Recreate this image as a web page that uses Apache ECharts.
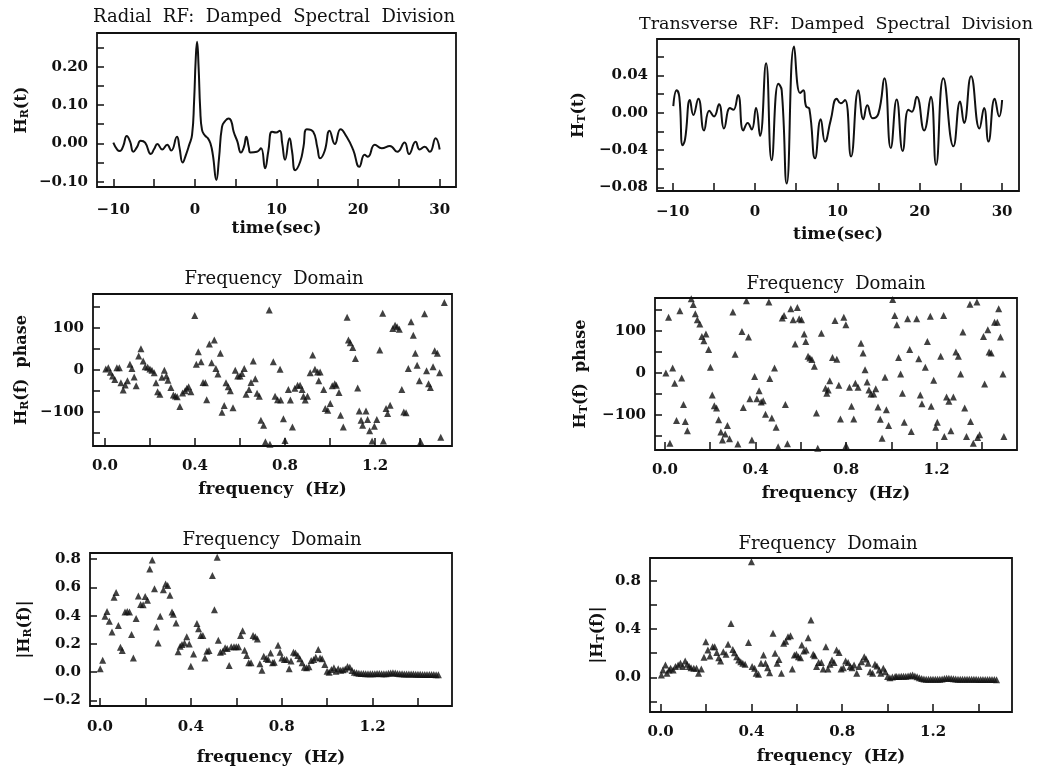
<!DOCTYPE html>
<html><head><meta charset="utf-8">
<script src="https://cdn.jsdelivr.net/npm/echarts@6/dist/echarts.min.js"></script>
<style>html,body{margin:0;padding:0;background:#fff}#c{width:1040px;height:767px}</style>
</head><body><div id="c"></div>
<script>
// ---------- Panel titles ----------
const titles = ['Radial  RF:  Damped  Spectral  Division','Transverse  RF:  Damped  Spectral  Division','Frequency  Domain','Frequency  Domain','Frequency  Domain','Frequency  Domain'];

// ---------- Radial RF time series ----------
const tRad = [-10,-9.5,-9.2,-8.8,-8.35,-7.95,-7.55,-7.1,-6.65,-6.1,-5.4,-5.0,-4.6,-4.0,-3.4,-2.9,-2.2,-1.9,-1.5,-1.1,-0.7,-0.35,-0.1,0.1,0.26,0.45,0.65,0.87,1.25,1.6,1.9,2.2,2.63,2.95,3.32,3.7,4.13,4.45,4.75,5.2,5.64,6.0,6.3,6.6,6.8,7.6,8.1,8.6,9.0,9.45,9.95,10.4,10.7,11.05,11.6,11.9,12.3,12.9,13.3,13.7,14.5,15.0,15.35,15.9,16.5,17.15,17.85,18.6,19.4,20.15,20.8,21.2,22.05,22.9,23.9,24.8,25.7,26.25,27.05,27.55,28.15,28.8,29.5,30];
const hRad = [0.002,-0.017,-0.02,-0.008,0.019,0.005,-0.022,-0.01,0.007,0.002,-0.028,-0.015,-0.002,-0.016,-0.004,-0.019,0.017,-0.01,-0.05,-0.03,-0.004,0.022,0.11,0.22,0.265,0.2,0.09,0.035,0.02,0.013,0.0,-0.03,-0.096,-0.04,0.043,0.058,0.065,0.058,0.03,0.005,-0.024,-0.01,0.017,-0.01,-0.024,-0.022,-0.013,-0.065,-0.02,0.03,0.028,0.033,0.0,-0.043,0.013,-0.02,-0.07,-0.048,-0.01,0.037,0.03,-0.01,-0.039,-0.02,0.033,-0.002,0.037,0.017,-0.017,-0.061,-0.03,-0.035,-0.004,-0.013,-0.007,-0.022,0.002,-0.028,0.004,-0.016,-0.009,-0.022,0.013,-0.016];

// ---------- Transverse RF time series ----------
const tTra = [-9.92,-9.51,-9.19,-8.79,-8.5,-7.9,-7.49,-6.88,-6.19,-5.55,-4.98,-4.37,-3.77,-3.04,-2.63,-2.06,-1.42,-0.89,-0.4,0.12,0.61,1.34,2.02,2.83,3.24,3.85,4.74,5.47,5.87,6.19,6.6,7.29,7.98,8.5,9.19,9.92,10.4,10.93,11.66,12.55,13.16,13.64,14.29,14.98,15.71,16.48,17.2,17.93,18.62,19.03,19.64,20.53,21.34,21.98,22.87,24.09,24.9,25.38,26.23,27.25,27.81,28.34,29.1,29.64,30];
const hTra = [0.007,0.024,0.017,-0.035,-0.029,0.0136,-0.0025,0.015,-0.019,0.002,-0.004,0.009,-0.017,0.005,0.003,0.019,-0.019,-0.011,-0.018,0.005,-0.025,0.053,-0.051,0.031,0.024,-0.076,0.071,0.021,0.024,0.007,0.004,-0.049,-0.007,-0.031,-0.008,0.015,0.01,0.0136,-0.047,0.024,-0.007,0.008,-0.006,-0.001,0.037,-0.038,0.014,-0.041,0.003,0.001,0.017,-0.019,0.017,-0.056,0.037,-0.036,0.012,-0.011,0.039,-0.017,0.005,-0.031,0.015,-0.004,0.0136];

// ---------- Radial phase spectrum ----------
const fRadPh = [0.004,0.015,0.024,0.034,0.044,0.053,0.064,0.071,0.081,0.09,0.1,0.111,0.12,0.13,0.139,0.15,0.16,0.17,0.179,0.19,0.2,0.209,0.219,0.227,0.234,0.244,0.253,0.264,0.273,0.28,0.293,0.304,0.313,0.321,0.333,0.345,0.356,0.364,0.372,0.382,0.399,0.406,0.415,0.427,0.436,0.446,0.452,0.464,0.474,0.486,0.493,0.502,0.513,0.52,0.53,0.538,0.548,0.557,0.569,0.579,0.59,0.6,0.609,0.619,0.627,0.64,0.649,0.659,0.668,0.676,0.686,0.693,0.705,0.713,0.73,0.733,0.748,0.756,0.767,0.778,0.781,0.793,0.8,0.815,0.824,0.833,0.844,0.856,0.867,0.876,0.882,0.89,0.9,0.912,0.923,0.933,0.945,0.95,0.956,0.972,0.979,0.99,1.001,1.01,1.021,1.028,1.04,1.047,1.059,1.076,1.082,1.09,1.101,1.113,1.123,1.13,1.138,1.145,1.16,1.167,1.176,1.187,1.197,1.208,1.221,1.234,1.237,1.249,1.256,1.267,1.279,1.289,1.298,1.308,1.319,1.328,1.338,1.348,1.36,1.37,1.379,1.387,1.397,1.403,1.42,1.429,1.438,1.446,1.458,1.465,1.477,1.487,1.492,1.508];
const phRad = [2,5,-6,-15,-23,5,5,-31,-48,-36,-26,13,3,-17,-38,33,50,21,7,6,2,-1,-7,-31,-52,-58,-18,-1,-15,-25,-42,-60,-62,-64,-87,-55,-50,-44,-40,-52,129,13,43,19,-30,-31,-71,61,17,71,3,-10,39,-101,-85,-31,-40,-50,-90,-1,-15,-15,-9,3,-58,-47,-30,21,-21,-56,-63,-120,-132,-171,142,-177,19,-63,-71,1,-72,-116,-168,-47,-72,-136,-44,-37,-37,-47,-63,-72,-63,-7,35,1,-5,-26,-5,-47,-92,-96,-80,-38,-33,-37,-54,-108,-136,125,71,64,53,27,-43,-98,-120,-132,-98,-118,-145,-169,-134,-118,47,134,-169,-92,-104,-84,98,106,102,96,-47,-100,-102,3,114,82,39,11,-26,-171,133,-2,-33,-42,7,45,39,-7,-160,160];

// ---------- Transverse phase spectrum ----------
const fTraPh = [0.004,0.016,0.022,0.034,0.043,0.051,0.066,0.074,0.082,0.09,0.099,0.116,0.125,0.134,0.143,0.154,0.163,0.172,0.181,0.193,0.201,0.209,0.218,0.228,0.237,0.247,0.254,0.266,0.276,0.285,0.3,0.31,0.322,0.34,0.346,0.36,0.369,0.375,0.384,0.396,0.406,0.416,0.425,0.434,0.444,0.459,0.463,0.472,0.484,0.491,0.5,0.518,0.526,0.532,0.541,0.556,0.566,0.575,0.585,0.593,0.603,0.615,0.622,0.632,0.64,0.649,0.66,0.669,0.675,0.691,0.709,0.715,0.721,0.728,0.74,0.751,0.759,0.768,0.775,0.79,0.799,0.8,0.815,0.824,0.834,0.841,0.853,0.866,0.875,0.884,0.893,0.901,0.91,0.922,0.931,0.941,0.951,0.959,0.972,0.978,0.988,1.006,1.015,1.024,1.032,1.041,1.049,1.057,1.072,1.081,1.088,1.112,1.121,1.128,1.135,1.15,1.159,1.172,1.176,1.187,1.196,1.203,1.218,1.231,1.234,1.244,1.254,1.263,1.274,1.285,1.296,1.306,1.316,1.324,1.332,1.347,1.35,1.362,1.378,1.381,1.39,1.407,1.412,1.426,1.432,1.441,1.456,1.468,1.474,1.482,1.493,1.497];
const phTra = [0,133,-167,12,-24,-113,148,-12,-75,-115,-137,177,163,141,127,117,87,77,93,56,14,-52,-78,-83,-111,-140,-159,-145,-125,-156,145,45,-169,99,-82,172,86,-61,-159,-8,-61,-42,-69,-66,-98,169,-13,-107,12,-129,-175,131,137,-75,-168,153,127,69,156,129,127,93,75,40,36,32,16,-95,-179,95,-36,-48,-40,-18,37,125,33,-29,-109,133,115,-172,-34,-79,-109,-24,-34,71,48,8,-21,-40,-50,-50,-37,-81,-110,-155,-10,-87,-125,175,137,115,37,-2,-48,-117,129,56,-139,129,34,-52,-73,14,75,135,-79,-17,-129,-117,40,137,-151,-57,-67,-137,-57,50,40,-2,98,-83,-151,164,-115,-167,169,-153,-147,87,-26,103,50,48,121,121,153,86,-2,-151];

// ---------- Radial amplitude spectrum ----------
const fRadAmp = [0.001,0.012,0.022,0.031,0.041,0.053,0.062,0.071,0.081,0.09,0.098,0.11,0.12,0.13,0.139,0.147,0.159,0.169,0.179,0.19,0.199,0.209,0.219,0.23,0.24,0.249,0.256,0.265,0.279,0.289,0.298,0.308,0.317,0.323,0.335,0.344,0.353,0.361,0.372,0.382,0.393,0.4,0.412,0.427,0.434,0.444,0.453,0.462,0.471,0.48,0.495,0.504,0.516,0.521,0.53,0.541,0.551,0.56,0.569,0.578,0.59,0.6,0.61,0.619,0.628,0.637,0.646,0.655,0.665,0.674,0.684,0.693,0.704,0.713,0.721,0.732,0.741,0.751,0.76,0.767,0.784,0.793,0.801,0.812,0.822,0.833,0.841,0.852,0.861,0.871,0.88,0.89,0.9,0.91,0.92,0.93,0.941,0.95,0.961,0.969,0.978,0.99,1.0,1.009,1.019,1.03,1.039,1.049,1.06,1.07,1.08,1.09,1.1,1.11,1.12,1.13,1.14,1.15,1.16,1.17,1.18,1.19,1.2,1.21,1.22,1.23,1.24,1.25,1.26,1.27,1.28,1.29,1.3,1.31,1.32,1.33,1.34,1.35,1.36,1.37,1.38,1.39,1.4,1.41,1.42,1.43,1.44,1.45,1.46,1.47,1.48,1.49,1.5];
const ampRad = [0.024,0.085,0.395,0.43,0.36,0.285,0.53,0.565,0.33,0.176,0.153,0.426,0.43,0.426,0.266,0.1,0.38,0.54,0.48,0.478,0.536,0.51,0.73,0.795,0.59,0.32,0.207,0.395,0.584,0.624,0.614,0.544,0.426,0.41,0.348,0.144,0.184,0.195,0.207,0.25,0.2,0.042,0.129,0.344,0.308,0.259,0.259,0.1,0.148,0.153,0.685,0.442,0.814,0.226,0.141,0.148,0.172,0.167,0.047,0.179,0.179,0.179,0.179,0.259,0.294,0.155,0.118,0.066,0.066,0.259,0.25,0.235,0.059,0.014,0.113,0.096,0.089,0.136,0.066,0.07,0.19,0.141,0.1,0.089,0.089,0.024,0.078,0.141,0.136,0.118,0.094,0.066,0.035,0.031,0.038,0.082,0.089,0.106,0.16,0.1,0.094,0.054,0.007,0.0,0.019,0.031,0.007,0.024,0.014,0.017,0.022,0.04,0.035,0.012,0.0,-0.005,-0.008,-0.01,-0.01,-0.011,-0.011,-0.012,-0.011,-0.011,-0.01,-0.01,-0.011,-0.011,-0.012,-0.008,-0.006,-0.005,-0.006,-0.009,-0.011,-0.012,-0.013,-0.013,-0.014,-0.014,-0.014,-0.015,-0.015,-0.015,-0.016,-0.016,-0.016,-0.017,-0.017,-0.017,-0.018,-0.018];

// ---------- Transverse amplitude spectrum ----------
const fTraAmp = [0.003,0.01,0.021,0.028,0.037,0.044,0.055,0.065,0.077,0.087,0.097,0.108,0.117,0.126,0.134,0.146,0.158,0.167,0.179,0.191,0.199,0.208,0.217,0.229,0.238,0.247,0.256,0.264,0.276,0.288,0.297,0.31,0.318,0.325,0.335,0.344,0.353,0.362,0.372,0.387,0.4,0.403,0.414,0.421,0.431,0.442,0.453,0.462,0.471,0.48,0.495,0.504,0.513,0.521,0.532,0.542,0.551,0.561,0.572,0.58,0.589,0.598,0.607,0.616,0.622,0.631,0.641,0.65,0.662,0.672,0.678,0.687,0.696,0.708,0.716,0.728,0.737,0.746,0.755,0.764,0.775,0.786,0.795,0.805,0.815,0.826,0.835,0.843,0.852,0.864,0.874,0.885,0.897,0.905,0.914,0.923,0.934,0.944,0.953,0.963,0.97,0.981,0.99,1.0,1.01,1.021,1.033,1.04,1.05,1.06,1.07,1.08,1.09,1.1,1.11,1.12,1.13,1.14,1.15,1.16,1.17,1.18,1.19,1.2,1.21,1.22,1.23,1.24,1.25,1.26,1.27,1.28,1.29,1.3,1.31,1.32,1.33,1.34,1.35,1.36,1.37,1.38,1.39,1.4,1.41,1.42,1.43,1.44,1.45,1.46,1.47,1.48,1.49,1.5];
const ampTra = [0.019,0.061,0.102,0.033,0.061,0.075,0.061,0.089,0.102,0.116,0.089,0.136,0.108,0.089,0.08,0.075,0.075,0.033,0.069,0.166,0.296,0.227,0.177,0.254,0.254,0.207,0.163,0.136,0.213,0.191,0.274,0.448,0.232,0.205,0.171,0.144,0.13,0.116,0.108,0.29,0.96,0.089,0.075,0.033,0.025,0.116,0.185,0.116,0.08,0.039,0.365,0.199,0.116,0.149,0.033,0.282,0.3,0.337,0.346,0.069,0.185,0.191,0.171,0.163,0.268,0.218,0.227,0.329,0.476,0.191,0.18,0.089,0.124,0.124,0.069,0.254,0.069,0.108,0.144,0.124,0.227,0.207,0.069,0.08,0.136,0.124,0.089,0.08,0.102,0.033,0.089,0.13,0.171,0.152,0.116,0.047,0.033,0.108,0.094,0.061,0.033,0.075,0.047,0.006,-0.003,0.003,0.006,0.006,0.007,0.008,0.008,0.009,0.011,0.016,0.02,0.012,0.004,-0.004,-0.01,-0.014,-0.016,-0.017,-0.017,-0.017,-0.016,-0.016,-0.015,-0.013,-0.01,-0.008,-0.007,-0.01,-0.012,-0.014,-0.015,-0.015,-0.016,-0.016,-0.016,-0.017,-0.017,-0.017,-0.017,-0.018,-0.018,-0.018,-0.018,-0.019,-0.019,-0.019,-0.019,-0.02];

// ---------- Tick positions and labels ----------
const timeTicks = [-10,-5,0,5,10,15,20,25,30];
const timeLabels = [-10,0,10,20,30];
const radTimeTicks = [-0.10,-0.05,0,0.05,0.10,0.15,0.20,0.25];
const radTimeLabels = [-0.10,0,0.10,0.20];
const traTimeTicks = [-0.08,-0.06,-0.04,-0.02,0,0.02,0.04,0.06,0.08];
const traTimeLabels = [-0.08,-0.04,0,0.04,0.08];
const freqTicks = [0,0.2,0.4,0.6,0.8,1.0,1.2,1.4];
const freqLabels = [0,0.4,0.8,1.2];
const phaseTicks = [-150,-100,-50,0,50,100,150];
const phaseLabels = [-100,0,100];
const radAmpTicks = [-0.2,0,0.2,0.4,0.6,0.8];
const radAmpLabels = [-0.2,0,0.2,0.4,0.6,0.8];
const traAmpTicks = [-0.2,0,0.2,0.4,0.6,0.8];
const traAmpLabels = [0,0.4,0.8];

// ---------- styling / layout ----------
const FONT = 'DejaVu Serif';
const INK = '#111';
const zip = (a, b) => a.map((v, i) => [v, b[i]]);
const fmt = d => v => { const s = Math.abs(v) < 1e-9 ? (0).toFixed(d) : Math.abs(v).toFixed(d); return (v < -1e-9 ? '\u2212' : '') + s; };

const grids = [
  {left: 97, top: 33, width: 359, height: 154},
  {left: 657, top: 39, width: 362, height: 152},
  {left: 93, top: 294, width: 359, height: 152},
  {left: 655, top: 298, width: 362, height: 152},
  {left: 90, top: 553, width: 362, height: 156},
  {left: 650, top: 558, width: 362, height: 154}
];
const titlePos = [[274, 8], [836, 15], [274, 270], [836, 275], [272, 531], [828, 535]];
const titleSize = [18, 17.5, 18, 18, 18, 18];

const rich = {
  m: {fontFamily: FONT, fontSize: 16, fontWeight: 'bold', color: INK},
  s: {fontFamily: FONT, fontSize: 11, fontWeight: 'bold', color: INK, padding: [7, 0, 0, 0]}
};

function xAx(i, min, max, ticks, labels, dec, name, gap, margin) {
  return {
    type: 'value', gridIndex: i, min, max, name, nameLocation: 'middle', nameGap: gap,
    nameTextStyle: {fontFamily: FONT, fontSize: 17, fontWeight: 'bold', color: INK},
    axisLine: {show: false, onZero: false}, splitLine: {show: false},
    axisTick: {show: true, inside: true, length: 8, customValues: ticks, lineStyle: {color: INK, width: 1.5}},
    axisLabel: {customValues: labels, formatter: fmt(dec), fontFamily: FONT, fontSize: 15, fontWeight: 'bold', color: INK, margin: margin}
  };
}
function yAx(i, min, max, ticks, labels, dec, name, gap) {
  return {
    type: 'value', gridIndex: i, min, max, name, nameLocation: 'middle', nameGap: gap, nameRotate: 90,
    nameTextStyle: {rich},
    axisLine: {show: false, onZero: false}, splitLine: {show: false},
    axisTick: {show: true, inside: true, length: 7, customValues: ticks, lineStyle: {color: INK, width: 1.5}},
    axisLabel: {customValues: labels, formatter: fmt(dec), fontFamily: FONT, fontSize: 15, fontWeight: 'bold', color: INK, margin: 9}
  };
}

const lineS = (i, x, y) => ({type: 'line', xAxisIndex: i, yAxisIndex: i, data: zip(x, y), showSymbol: false, smooth: 0.5, lineStyle: {color: INK, width: 2}, silent: true});
const dotS = (i, x, y) => ({type: 'scatter', xAxisIndex: i, yAxisIndex: i, data: zip(x, y), symbol: 'triangle', symbolSize: 7, itemStyle: {color: INK}, silent: true});

const option = {
  backgroundColor: '#fff',
  animation: false,
  title: titles.map((t, i) => ({text: t, left: titlePos[i][0], top: titlePos[i][1], textAlign: 'center', padding: 0,
    textStyle: {fontFamily: FONT, fontSize: titleSize[i], fontWeight: 'normal', color: INK}})),
  grid: grids.map(g => Object.assign({show: true, borderColor: INK, borderWidth: 1.8, backgroundColor: 'transparent'}, g)),
  xAxis: [
    xAx(0, -12, 32, timeTicks, timeLabels, 0, 'time(sec)', 33, 16),
    xAx(1, -11.9, 32.05, timeTicks, timeLabels, 0, 'time(sec)', 35, 14),
    xAx(2, -0.053, 1.542, freqTicks, freqLabels, 1, 'frequency  (Hz)', 35, 13),
    xAx(3, -0.044, 1.555, freqTicks, freqLabels, 1, 'frequency  (Hz)', 35, 13),
    xAx(4, -0.044, 1.55, freqTicks, freqLabels, 1, 'frequency  (Hz)', 43, 14),
    xAx(5, -0.047, 1.548, freqTicks, freqLabels, 1, 'frequency  (Hz)', 36, 13)
  ],
  yAxis: [
    yAx(0, -0.114, 0.288, radTimeTicks, radTimeLabels, 2, '{m|H}{s|R}{m|(t)}', 66),
    yAx(1, -0.084, 0.079, traTimeTicks, traTimeLabels, 2, '{m|H}{s|T}{m|(t)}', 69),
    yAx(2, -181, 180, phaseTicks, phaseLabels, 0, '{m|H}{s|R}{m|(f)  phase}', 62),
    yAx(3, -183, 178.6, phaseTicks, phaseLabels, 0, '{m|H}{s|T}{m|(f)  phase}', 65),
    yAx(4, -0.24, 0.844, radAmpTicks, radAmpLabels, 1, '{m||H}{s|R}{m|(f)|}', 56),
    yAx(5, -0.288, 0.991, traAmpTicks, traAmpLabels, 1, '{m||H}{s|T}{m|(f)|}', 43)
  ],
  series: [
    lineS(0, tRad, hRad),
    lineS(1, tTra, hTra),
    dotS(2, fRadPh, phRad),
    dotS(3, fTraPh, phTra),
    dotS(4, fRadAmp, ampRad),
    dotS(5, fTraAmp, ampTra)
  ]
};
const chart = echarts.init(document.getElementById('c'), null, {renderer: 'canvas'});
chart.setOption(option);
</script>
</body></html>
